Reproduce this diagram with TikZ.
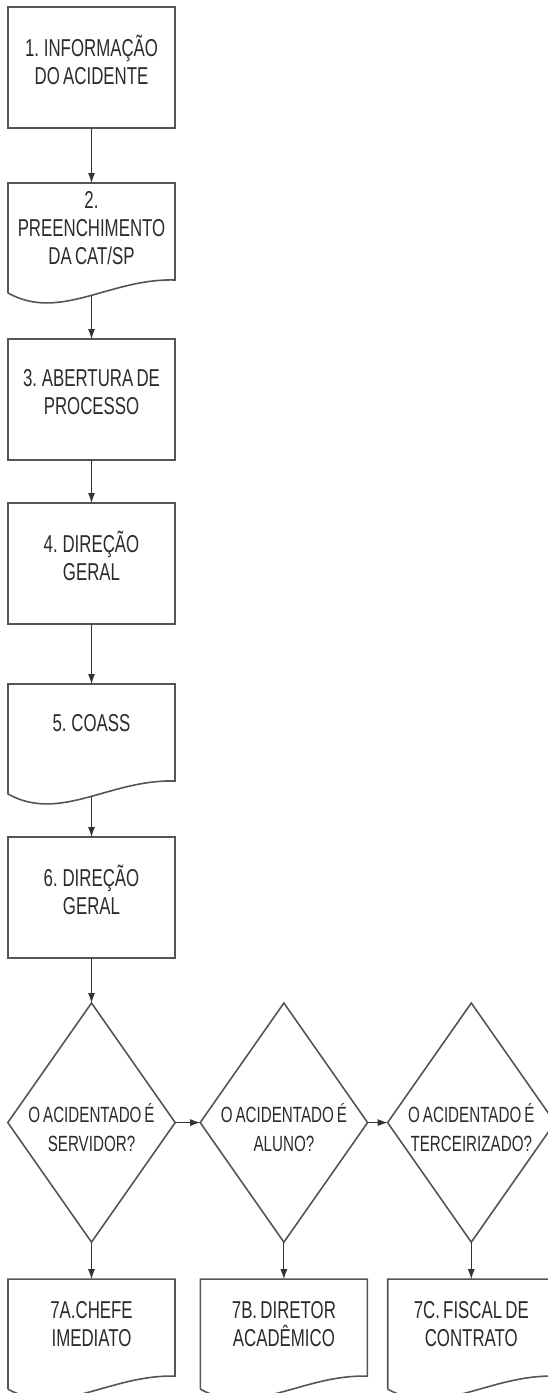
\documentclass[tikz,border=0pt]{standalone}
\usepackage{fontspec}
\setmainfont{Liberation Sans}[FakeStretch=0.69,WordSpace=0.7]
\usepackage{tikz}
\usetikzlibrary{shapes.geometric,arrows.meta,positioning}
\definecolor{linecol}{HTML}{555555}
\definecolor{textcol}{HTML}{2B2B2B}

\begin{document}
\begin{tikzpicture}[node distance=28pt and 12pt,
  box/.style={draw=linecol,line width=0.8pt,outer sep=0pt,minimum width=83.5pt,minimum height=60.5pt,inner sep=1pt,align=center,text=textcol,font=\fontsize{12.2}{14}\selectfont,text depth=8pt},
  doc/.style={box,draw=none,minimum height=48.5pt,text depth=4pt,
    append after command={\pgfextra{\let\docnode\tikzlastnode
      \draw[draw=linecol,line width=0.8pt] ([yshift=-6.5pt]\docnode.south west) -- (\docnode.north west) -- (\docnode.north east) -- (\docnode.south east)
        .. controls ([shift={(-32.5pt,1pt)}]\docnode.south east) and ([shift={(-57.5pt,-21pt)}]\docnode.south east) .. ([yshift=-6.5pt]\docnode.south west);}}},
  decision/.style={diamond,draw=linecol,line width=0.8pt,outer sep=0pt,aspect=0.7,minimum width=82.5pt,minimum height=118pt,inner sep=0pt,align=center,text=textcol,font=\fontsize{11}{14.5}\selectfont,text height=29.4pt,text depth=0pt},
  arr/.style={-{Latex[length=5pt,width=3.5pt]},line width=0.5pt,draw=black!80}]
  \useasboundingbox (0,0) rectangle (273.5pt,-696.5pt);
  \node[box] (info) at (45.75pt,-33.75pt) {1. INFORMAÇÃO\\DO ACIDENTE};
  \node[doc,below=27.5pt of info] (cat) {2.\\PREENCHIMENTO\\DA CAT/SP};
  \node[box,below=29.5pt of cat] (proc) {3. ABERTURA DE\\PROCESSO};
  \node[box,below=21.5pt of proc] (dirA) {4. DIREÇÃO\\GERAL};
  \node[doc,text depth=10pt,below=30pt of dirA] (coass) {5. COASS};
  \node[box,below=28pt of coass] (dirB) {6. DIREÇÃO\\GERAL};
  \node[decision,below=22.5pt of dirB] (serv) {O ACIDENTADO É\\SERVIDOR?};
  \node[decision,right=12.5pt of serv] (alun) {O ACIDENTADO É\\ALUNO?};
  \node[decision,right=10pt of alun] (terc) {O ACIDENTADO É\\TERCEIRIZADO?};
  \node[doc,below=18.5pt of serv] (chefe) {7A.CHEFE\\IMEDIATO};
  \node[doc,below=18.5pt of alun] (diret) {7B. DIRETOR\\ACADÊMICO};
  \node[doc,below=18.5pt of terc] (fisc) {7C. FISCAL DE\\CONTRATO};
  \draw[arr] (info) -- (cat);
  \draw[arr] ([yshift=-8pt]cat.south) -- (proc);
  \draw[arr] (proc) -- (dirA);
  \draw[arr] (dirA) -- (coass);
  \draw[arr] ([yshift=-8pt]coass.south) -- (dirB);
  \draw[arr] (dirB) -- (serv);
  \draw[arr] (serv) -- (alun);
  \draw[arr] (alun) -- (terc);
  \draw[arr] (serv) -- (chefe);
  \draw[arr] (alun) -- (diret);
  \draw[arr] (terc) -- (fisc);
\end{tikzpicture}
\end{document}
